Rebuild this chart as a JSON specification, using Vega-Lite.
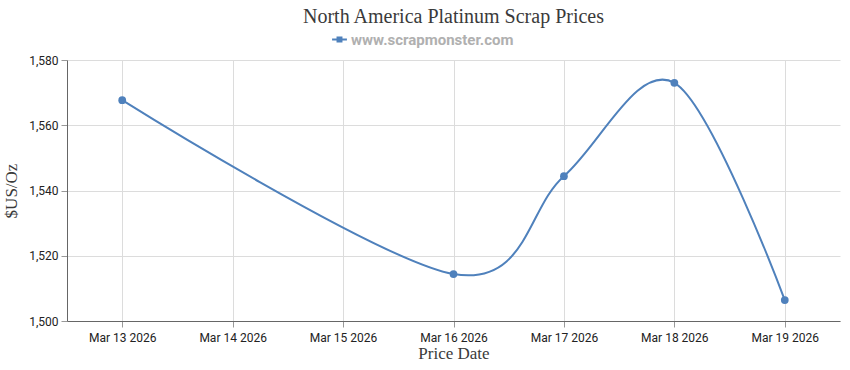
{
  "$schema": "https://vega.github.io/schema/vega-lite/v6.json",
  "width": 773,
  "height": 261,
  "autosize": {"type": "none"},
  "padding": {"left": 67, "top": 60, "right": 10, "bottom": 49},
  "background": "white",
  "title": {
    "text": "North America Platinum Scrap Prices",
    "font": "Liberation Serif",
    "fontSize": 20,
    "fontWeight": "normal",
    "color": "#3a3a3a",
    "anchor": "middle",
    "frame": "group",
    "offset": 5
  },
  "data": {
    "values": [
      {"date": "2026-03-13", "price": 1567.7, "series": "www.scrapmonster.com"},
      {"date": "2026-03-16", "price": 1514.4, "series": "www.scrapmonster.com"},
      {"date": "2026-03-17", "price": 1544.4, "series": "www.scrapmonster.com"},
      {"date": "2026-03-18", "price": 1573.0, "series": "www.scrapmonster.com"},
      {"date": "2026-03-19", "price": 1506.4, "series": "www.scrapmonster.com"}
    ]
  },
  "encoding": {
    "x": {
      "field": "date",
      "type": "temporal",
      "title": "Price Date",
      "scale": {
        "type": "utc",
        "domain": [
          {"year": 2026, "month": 3, "date": 12, "hours": 12, "utc": true},
          {"year": 2026, "month": 3, "date": 19, "hours": 12, "utc": true}
        ]
      },
      "axis": {
        "format": "%b %d %Y",
        "tickCount": {"interval": "day", "step": 1},
        "labelFont": "Roboto",
        "labelFontSize": 12,
        "labelColor": "#222",
        "labelPadding": 5,
        "tickSize": 6,
        "tickColor": "#999",
        "domainColor": "#666",
        "gridColor": "#dcdcdc",
        "titleFont": "Liberation Serif",
        "titleFontSize": 17,
        "titleFontWeight": "normal",
        "titleColor": "#3a3a3a",
        "titlePadding": 2
      }
    },
    "y": {
      "field": "price",
      "type": "quantitative",
      "title": "$US/Oz",
      "scale": {"domain": [1500, 1580], "nice": false, "zero": false},
      "axis": {
        "values": [1500, 1520, 1540, 1560, 1580],
        "format": ",d",
        "labelFont": "Roboto",
        "labelFontSize": 12,
        "labelColor": "#222",
        "labelPadding": 3,
        "tickSize": 6,
        "tickColor": "#999",
        "domainColor": "#666",
        "gridColor": "#dcdcdc",
        "titleFont": "Liberation Serif",
        "titleFontSize": 17,
        "titleFontWeight": "normal",
        "titleColor": "#3a3a3a",
        "titlePadding": 8
      }
    },
    "color": {
      "field": "series",
      "type": "nominal",
      "scale": {"range": ["#4f81bc"]},
      "legend": {
        "title": null,
        "orient": "none",
        "legendX": 265,
        "legendY": -28,
        "direction": "horizontal",
        "symbolType": "M-1,-0.12L1,-0.12L1,0.12L-1,0.12Z M-0.4,-0.4L0.4,-0.4L0.4,0.4L-0.4,0.4Z",
        "symbolSize": 220,
        "symbolStrokeWidth": 0,
        "symbolFillColor": "#4f81bc",
        "labelFont": "Roboto",
        "labelFontSize": 15,
        "labelFontWeight": "bold",
        "labelLimit": 300,
        "labelColor": "#b0b0b0"
      }
    }
  },
  "layer": [
    {"mark": {"type": "line", "interpolate": "cardinal", "strokeWidth": 2}},
    {"mark": {"type": "point", "filled": true, "size": 60, "opacity": 1}}
  ],
  "config": {
    "view": {"stroke": null},
    "axis": {"grid": true}
  }
}
